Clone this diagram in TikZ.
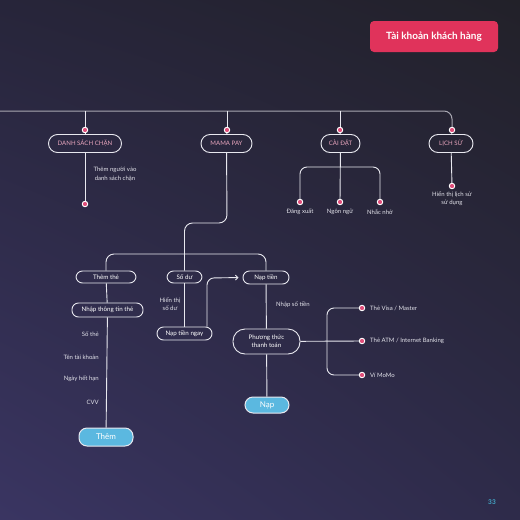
\documentclass[tikz,border=0pt]{standalone}
\usepackage{fontspec}
\setmainfont{Lato}
\usetikzlibrary{arrows.meta,shadings}
\definecolor{bgTL}{HTML}{27253A}
\definecolor{bgTR}{HTML}{222129}
\definecolor{bgBL}{HTML}{3A3562}
\definecolor{bgBR}{HTML}{2E2B4A}
\definecolor{lineC}{HTML}{E8E8EF}
\definecolor{topline}{HTML}{A9A8B2}
\definecolor{pinkdot}{HTML}{E04D7A}
\definecolor{pinktext}{HTML}{E9A6BE}
\definecolor{redbox}{HTML}{E0335B}
\definecolor{bluebtn}{HTML}{5BB8E0}
\definecolor{pagenum}{HTML}{43A9C9}
\definecolor{labelC}{HTML}{E2E2EA}
\tikzset{
  conn/.style={draw=lineC, line width=0.9pt},
  pill/.style={draw=lineC, line width=0.9pt, rounded corners=6.5pt, minimum height=13pt, inner sep=0pt, text=white, font=\fontsize{6.2}{7.6}\selectfont},
  toppill/.style={pill, minimum height=18pt, rounded corners=9pt, text=pinktext, font=\fontsize{6.1}{7}\selectfont},
  btn/.style={pill, fill=bluebtn, line width=1pt, rounded corners=8pt, font=\fontsize{8}{9}\selectfont},
  dot/.style={circle, fill=pinkdot, draw=white, line width=0.9pt, minimum size=5.5pt, inner sep=0pt},
  lbl/.style={text=labelC, font=\fontsize{6}{8.5}\selectfont, inner sep=0pt, align=center},
}
\begin{document}
\begin{tikzpicture}[x=1pt,y=-1pt]
\shade[upper left=bgTL, upper right=bgTR, lower left=bgBL, lower right=bgBR] (0,0) rectangle (520,520);
\useasboundingbox (0,0) rectangle (520,520);

% title
\node[fill=redbox, rounded corners=4pt, minimum width=128pt, minimum height=31pt, text=white, font=\fontsize{10}{12}\selectfont\bfseries] (title) at (434,36.5) {Tài khoản khách hàng};

% top level nodes
\node[toppill, minimum width=73pt] (dsc) at (85,143.5) {DANH SÁCH CHẶN};
\node[toppill, minimum width=51pt] (mama) at (226.5,143.5) {MAMA PAY};
\node[toppill, minimum width=39pt] (caidat) at (340.5,143.5) {CÀI ĐẶT};
\node[toppill, minimum width=44pt] (lichsu) at (451,143.5) {LỊCH SỬ};

% dots
\node[dot] (d1) at (85,130) {};
\node[dot] (d2) at (227,130) {};
\node[dot] (d3) at (340,130) {};
\node[dot] (d4) at (452,130) {};
\node[dot] (d5) at (85,204) {};
\node[dot] (d6) at (300,202) {};
\node[dot] (d7) at (340,202) {};
\node[dot] (d8) at (380,202) {};
\node[dot] (d9) at (452,186) {};
\node[dot] (d10) at (362,308) {};
\node[dot] (d11) at (362,341) {};
\node[dot] (d12) at (362,375) {};

% second level nodes
\node[pill, minimum width=60pt, minimum height=12pt] (themthe) at (106,277) {Thêm thẻ};
\node[pill, minimum width=35pt, minimum height=12pt] (sodu) at (184.5,277) {Số dư};
\node[pill, minimum width=46pt] (naptien) at (266,277.5) {Nạp tiền};
\node[pill, minimum width=71pt, minimum height=14pt] (nhaptt) at (107.5,310) {Nhập thông tin thẻ};
\node[pill, minimum width=55pt] (napngay) at (184.5,333.5) {Nạp tiền ngay};
\node[pill, minimum width=67pt, minimum height=25pt, rounded corners=12pt, align=center] (pttt) at (266.5,341.5) {Phương thức\\thanh toán};
\node[btn, minimum width=54pt, minimum height=18pt] (them) at (106,437) {Thêm};
\node[btn, minimum width=44pt, minimum height=16pt] (nap) at (267,405) {Nạp};

% coordinates
\coordinate (L0) at (0,111);
\coordinate (cbr) at (340,167);
\coordinate (mbr) at (227,223);
\coordinate (hbr) at (106,254);
\coordinate (ax) at (207,278);
\coordinate (pbr) at (327,308);
\coordinate (pbr2) at (327,375);

% top line
\draw[topline, line width=1pt, rounded corners=8pt] (L0) -- (L0 -| d4) -- (d4.north);
\draw[conn] (d1 |- L0) -- (d1);
\draw[conn] (d2 |- L0) -- (d2);
\draw[conn] (d3 |- L0) -- (d3);
\draw[conn] (d1) -- (dsc);
\draw[conn] (d2) -- (mama);
\draw[conn] (d3) -- (caidat);
\draw[conn] (d4) -- (lichsu);

% under top nodes
\draw[conn] (dsc) -- (d5);
\draw[conn] (caidat) -- (d7);
\draw[conn, rounded corners=7pt] (d6) -- (d6 |- cbr) -- (d8 |- cbr) -- (d8);
\draw[conn] (lichsu) -- (d9);

% mama pay branch
\draw[conn, rounded corners=8pt] (mama) -- (mbr) -- (mbr -| sodu) -- (sodu);
\draw[conn, rounded corners=8pt] (themthe) -- (hbr) -- (hbr -| naptien) -- (naptien);
\draw[conn] (themthe) -- (nhaptt) -- (them);
\draw[conn] (sodu) -- (napngay);
\draw[conn, rounded corners=7pt, -{Straight Barb[length=2.5pt,width=5pt]}, shorten >=4pt] (ax |- napngay.north) -- (ax) -- (naptien.west);
\draw[conn] (naptien) -- (pttt) -- (nap);
\draw[conn] (pttt) -- (d11);
\draw[conn, rounded corners=7pt] (d10) -- (pbr) -- (pbr2) -- (d12);

% labels
\node[lbl] (l1) at (115,174.5) {Thêm người vào\\danh sách chặn};
\node[lbl] (l2) at (300,212) {Đăng xuất};
\node[lbl] (l3) at (340,212) {Ngôn ngữ};
\node[lbl] (l4) at (380,212) {Nhắc nhở};
\node[lbl] (l5) at (452,198.5) {Hiển thị lịch sử\\sử dụng};
\node[lbl] (l6) at (170,304) {Hiển thị\\số dư};
\node[lbl, anchor=east] (l7) at (99,334) {Số thẻ};
\node[lbl, anchor=east] (l8) at (99,357) {Tên tài khoản};
\node[lbl, anchor=east] (l9) at (99,379) {Ngày hết hạn};
\node[lbl, anchor=east] (l10) at (99,402) {CVV};
\node[lbl, anchor=west] (l11) at (276,305) {Nhập số tiền};
\node[lbl, anchor=west] (l12) at (370,308) {Thẻ Visa / Master};
\node[lbl, anchor=west] (l13) at (370,341) {Thẻ ATM / Internet Banking};
\node[lbl, anchor=west] (l14) at (370,375) {Ví MoMo};
\node[text=pagenum, font=\fontsize{6.5}{7}\selectfont\bfseries] (pg) at (492,502) {33};
\end{tikzpicture}
\end{document}
